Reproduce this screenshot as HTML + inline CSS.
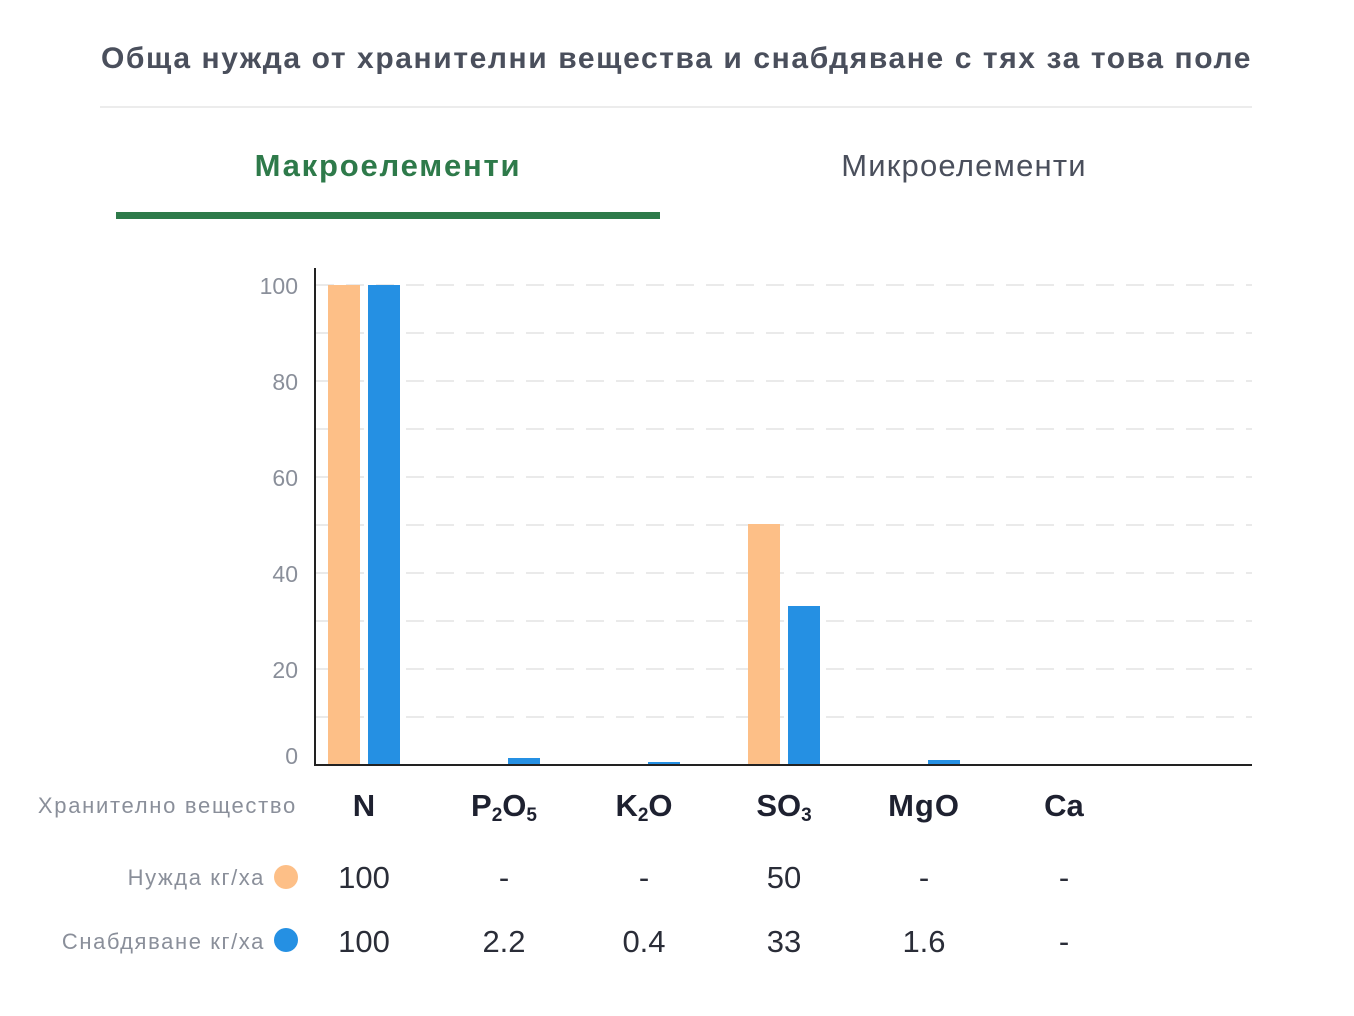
<!DOCTYPE html>
<html><head><meta charset="utf-8"><style>
body{margin:0;width:1354px;height:1016px;background:#fff;font-family:"Liberation Sans","Noto Sans CJK SC",sans-serif;position:relative;overflow:hidden}
.a{position:absolute;white-space:nowrap}
sub{font-size:19px;vertical-align:-5px}
</style></head><body>
<div class="a" style="left:100px;top:42px;width:1153px;text-align:center;font-size:30px;font-weight:bold;color:#4a4f5c;letter-spacing:1.6px">Обща нужда от хранителни вещества и снабдяване с тях за това поле</div>
<div class="a" style="left:100px;top:106px;width:1152px;height:2px;background:#ececec"></div>
<div class="a" style="left:116px;top:148px;width:544px;text-align:center;font-size:31px;font-weight:bold;color:#2e7a4a;letter-spacing:1.8px">Макроелементи</div>
<div class="a" style="left:692px;top:148px;width:544px;text-align:center;font-size:31px;color:#4a4f5c;letter-spacing:1.2px">Микроелементи</div>
<div class="a" style="left:116px;top:212px;width:544px;height:7px;background:#2e7a4a"></div>
<svg class="a" style="left:0;top:0" width="1354" height="1016">
<g stroke="#e3e3e3" stroke-width="1.5" stroke-dasharray="18,12">
<line x1="316" x2="1252" y1="285" y2="285"/><line x1="316" x2="1252" y1="333" y2="333"/><line x1="316" x2="1252" y1="381" y2="381"/><line x1="316" x2="1252" y1="429" y2="429"/><line x1="316" x2="1252" y1="477" y2="477"/><line x1="316" x2="1252" y1="525" y2="525"/><line x1="316" x2="1252" y1="573" y2="573"/><line x1="316" x2="1252" y1="621" y2="621"/><line x1="316" x2="1252" y1="669" y2="669"/><line x1="316" x2="1252" y1="717" y2="717"/>
</g>
<g font-family="Liberation Sans, sans-serif" font-size="23" fill="#8a8f9a" text-anchor="end">
<text x="298" y="294">100</text><text x="298" y="390">80</text><text x="298" y="486">60</text><text x="298" y="582">40</text><text x="298" y="678">20</text><text x="298" y="764">0</text>
</g>
<rect x="328" y="285" width="32" height="480" fill="#fdbf87"/>
<rect x="368" y="285" width="32" height="480" fill="#2590e3"/>
<rect x="508" y="758" width="32" height="7" fill="#2590e3"/>
<rect x="648" y="762" width="32" height="3" fill="#2590e3"/>
<rect x="748" y="524" width="32" height="241" fill="#fdbf87"/>
<rect x="788" y="606" width="32" height="159" fill="#2590e3"/>
<rect x="928" y="760" width="32" height="5" fill="#2590e3"/>
<line x1="315" y1="268" x2="315" y2="766" stroke="#222" stroke-width="2"/>
<line x1="314" y1="765" x2="1252" y2="765" stroke="#222" stroke-width="2"/>
<circle cx="286" cy="877" r="12" fill="#fdbf87"/>
<circle cx="286" cy="940" r="12" fill="#2590e3"/>
</svg>
<div class="a" style="left:0;top:793px;width:297px;text-align:right;font-size:22px;color:#8a8f9a;letter-spacing:1.7px">Хранително вещество</div>
<div class="a" style="left:0;top:865px;width:265px;text-align:right;font-size:22px;color:#8a8f9a;letter-spacing:1.6px">Нужда кг/ха</div>
<div class="a" style="left:0;top:929px;width:265px;text-align:right;font-size:22px;color:#8a8f9a;letter-spacing:1.6px">Снабдяване кг/ха</div>
<div style="font-size:31px;font-weight:bold;color:#1e2130">
<div class="a" style="left:304px;top:788px;width:120px;text-align:center">N</div>
<div class="a" style="left:444px;top:788px;width:120px;text-align:center">P<sub>2</sub>O<sub>5</sub></div>
<div class="a" style="left:584px;top:788px;width:120px;text-align:center">K<sub>2</sub>O</div>
<div class="a" style="left:724px;top:788px;width:120px;text-align:center">SO<sub>3</sub></div>
<div class="a" style="left:864px;top:788px;width:120px;text-align:center;letter-spacing:1px">MgO</div>
<div class="a" style="left:1004px;top:788px;width:120px;text-align:center">Ca</div>
</div>
<div style="font-size:31px;color:#2a2d38">
<div class="a" style="left:304px;top:860px;width:120px;text-align:center">100</div>
<div class="a" style="left:444px;top:860px;width:120px;text-align:center">-</div>
<div class="a" style="left:584px;top:860px;width:120px;text-align:center">-</div>
<div class="a" style="left:724px;top:860px;width:120px;text-align:center">50</div>
<div class="a" style="left:864px;top:860px;width:120px;text-align:center">-</div>
<div class="a" style="left:1004px;top:860px;width:120px;text-align:center">-</div>
<div class="a" style="left:304px;top:924px;width:120px;text-align:center">100</div>
<div class="a" style="left:444px;top:924px;width:120px;text-align:center">2.2</div>
<div class="a" style="left:584px;top:924px;width:120px;text-align:center">0.4</div>
<div class="a" style="left:724px;top:924px;width:120px;text-align:center">33</div>
<div class="a" style="left:864px;top:924px;width:120px;text-align:center">1.6</div>
<div class="a" style="left:1004px;top:924px;width:120px;text-align:center">-</div>
</div>
</body></html>
